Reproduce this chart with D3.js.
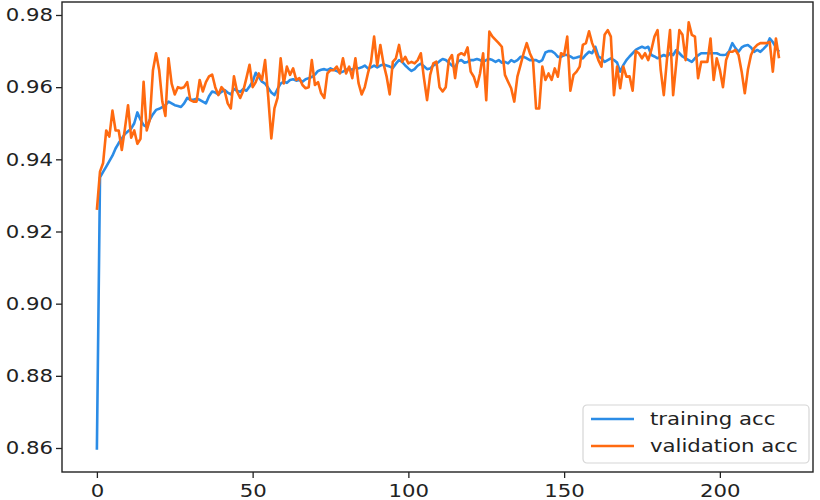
<!doctype html>
<html lang="en">
<head>
  <meta charset="utf-8">
  <title>Training vs validation accuracy</title>
  <script src="https://d3js.org/d3.v7.min.js"></script>
  <style>
    body { margin: 0; background: #fff; }
    svg text { font-family: "DejaVu Sans", sans-serif; fill: #222; }
  </style>
</head>
<body>
  <div id='my_chart'></div>
<script>
  const width = 820;
  const height = 500;
  const box = {left: 62, top: 2, right: 813, bottom: 472};
  const stretch = 1.18; // the picture's text is a bit wider than it is tall

  // data (one value per epoch)
  const training_acc = [
    0.8595, 0.935, 0.9365, 0.938, 0.9395, 0.941, 0.943, 0.9445, 0.9458, 0.947,
    0.9478, 0.9485, 0.950, 0.953, 0.951, 0.9495, 0.949, 0.951, 0.9525, 0.9537,
    0.954, 0.9545, 0.955, 0.956, 0.9555, 0.955, 0.9548, 0.9545, 0.9555, 0.957,
    0.9565, 0.9565, 0.9568, 0.9565, 0.956, 0.9555, 0.9575, 0.9588, 0.9585, 0.958,
    0.9587, 0.9592, 0.9585, 0.958, 0.9595, 0.959, 0.9587, 0.9595, 0.959, 0.9602,
    0.9615, 0.964, 0.9628, 0.9615, 0.961, 0.9598, 0.9585, 0.9578, 0.9595, 0.961,
    0.9615, 0.9612, 0.962, 0.9622, 0.9618, 0.962, 0.9615, 0.9622, 0.9625, 0.9628,
    0.9635, 0.9645, 0.9648, 0.965, 0.9647, 0.9652, 0.9648, 0.9645, 0.964, 0.9643,
    0.9648, 0.9652, 0.9648, 0.9655, 0.9652, 0.9655, 0.966, 0.9652, 0.9655, 0.966,
    0.9655, 0.966, 0.9663, 0.966, 0.9657, 0.9653, 0.9665, 0.9675, 0.967, 0.966,
    0.9652, 0.9645, 0.965, 0.966, 0.9665, 0.9658, 0.965, 0.9652, 0.966, 0.9665,
    0.9672, 0.9678, 0.9675, 0.9668, 0.966, 0.9655, 0.9672, 0.9675, 0.9668, 0.967,
    0.9675, 0.9675, 0.9678, 0.9675, 0.967, 0.9675, 0.9678, 0.9675, 0.967, 0.9675,
    0.9668, 0.967, 0.9666, 0.9675, 0.967, 0.9675, 0.9684, 0.9684, 0.968, 0.9675,
    0.9675, 0.9675, 0.967, 0.9675, 0.9696, 0.970, 0.970, 0.9694, 0.9684, 0.9684,
    0.9689, 0.9689, 0.9685, 0.968, 0.9682, 0.9685, 0.968, 0.969, 0.9698, 0.9694,
    0.9712, 0.9685, 0.968, 0.967, 0.9675, 0.968, 0.9675, 0.9668, 0.9643, 0.9661,
    0.9675, 0.9685, 0.9694, 0.9703, 0.9708, 0.9712, 0.9708, 0.9712, 0.9689, 0.9685,
    0.968, 0.9685, 0.9689, 0.9685, 0.9694, 0.9689, 0.9703, 0.9694, 0.9685, 0.968,
    0.9675, 0.967, 0.968, 0.9688, 0.9694, 0.9694, 0.9694, 0.9694, 0.9694, 0.9694,
    0.969, 0.9689, 0.969, 0.970, 0.9722, 0.9708, 0.9698, 0.971, 0.9715, 0.9717,
    0.971, 0.9698, 0.9703, 0.9698, 0.9706, 0.9715, 0.9735, 0.9725, 0.971, 0.9698
  ];
  const validation_acc = [
    0.926, 0.9366, 0.939, 0.948, 0.9463, 0.9535, 0.948, 0.948, 0.9426, 0.9485,
    0.955, 0.946, 0.948, 0.9443, 0.9457, 0.9615, 0.948, 0.951, 0.9647, 0.9694,
    0.9647, 0.956, 0.952, 0.968, 0.961, 0.958, 0.960, 0.9597, 0.960, 0.9614,
    0.9564, 0.956, 0.956, 0.962, 0.9588, 0.9614, 0.963, 0.9635, 0.960, 0.9578,
    0.960, 0.959, 0.9555, 0.9541, 0.963, 0.9588, 0.957, 0.959, 0.9625, 0.9662,
    0.960, 0.9614, 0.9638, 0.962, 0.9675, 0.9574, 0.9458, 0.9541, 0.957, 0.968,
    0.961, 0.9657, 0.9634, 0.9652, 0.962, 0.9625, 0.9606, 0.9597, 0.960, 0.9675,
    0.9606, 0.9614, 0.9583, 0.957, 0.9638, 0.9647, 0.9647, 0.9657, 0.9638, 0.968,
    0.9638, 0.9657, 0.9625, 0.968, 0.9611, 0.958, 0.960, 0.9638, 0.967, 0.974,
    0.966, 0.9717, 0.9666, 0.963, 0.958, 0.967, 0.968, 0.9717, 0.967, 0.9684,
    0.9666, 0.967, 0.9666, 0.9675, 0.9694, 0.9625, 0.9564, 0.9634, 0.9666, 0.9671,
    0.960, 0.9588, 0.960, 0.9675, 0.9689, 0.9625, 0.9689, 0.9694, 0.9689, 0.971,
    0.9643, 0.9629, 0.9601, 0.9638, 0.9694, 0.9564, 0.9754, 0.974, 0.9731, 0.9722,
    0.9712, 0.9634, 0.9615, 0.9597, 0.956, 0.9629, 0.9661, 0.9694, 0.9722, 0.9694,
    0.9675, 0.9541, 0.9541, 0.9657, 0.962, 0.9638, 0.962, 0.9652, 0.9629, 0.9694,
    0.9689, 0.974, 0.959, 0.9634, 0.9643, 0.9657, 0.9717, 0.9722, 0.9755, 0.9722,
    0.970, 0.9675, 0.9657, 0.9745, 0.9758, 0.974, 0.9578, 0.9657, 0.9597, 0.9657,
    0.9629, 0.963, 0.959, 0.970, 0.9694, 0.968, 0.9694, 0.9675, 0.9703, 0.974,
    0.9758, 0.9648, 0.9578, 0.9675, 0.9758, 0.9578, 0.9666, 0.9758, 0.9745, 0.9675,
    0.978, 0.9745, 0.974, 0.9625, 0.967, 0.967, 0.967, 0.9735, 0.962, 0.968,
    0.9648, 0.960, 0.9675, 0.9698, 0.9698, 0.9703, 0.9689, 0.9643, 0.9583, 0.9648,
    0.9689, 0.9708, 0.9717, 0.9722, 0.9722, 0.9722, 0.9725, 0.9643, 0.9735, 0.968
  ];
  const x_ticks = [0, 50, 100, 150, 200];
  const y_ticks = [0.86, 0.88, 0.90, 0.92, 0.94, 0.96, 0.98];
  const series = [
    {name: 'training acc', values: training_acc, color: '#2b8ce6'},
    {name: 'validation acc', values: validation_acc, color: '#ff6a10'}
  ];

  const x = d3.scaleLinear()
    .domain([-11.2, 229.9])
    .range([box.left, box.right]);
  const y = d3.scaleLinear()
    .domain([0.85335, 0.9836])
    .range([box.bottom, box.top]);

  const line = d3.line()
    .x((d, i) => x(i))
    .y((d) => y(d));

  let chart = d3.select('#my_chart').append('svg')
    .attr('width', width)
    .attr('height', height)
    .style('background', '#fff');

  // lines, clipped to the axes box
  chart.append('clipPath').attr('id', 'clip')
    .append('rect')
      .attr('x', box.left).attr('y', box.top)
      .attr('width', box.right - box.left).attr('height', box.bottom - box.top);

  chart.append('g')
    .attr('clip-path', 'url(#clip)')
    .selectAll('path')
    .data(series)
    .enter()
      .append('path')
        .attr('d', (d) => line(d.values))
        .attr('fill', 'none')
        .attr('stroke', (d) => d.color)
        .attr('stroke-width', 2.6)
        .attr('stroke-linejoin', 'round');

  // axes
  const x_axis = chart.append('g')
    .attr('transform', 'translate(0,' + box.bottom + ')')
    .call(d3.axisBottom(x).tickValues(x_ticks).tickFormat(d3.format('d'))
      .tickSize(6).tickSizeOuter(0).tickPadding(6));
  const y_axis = chart.append('g')
    .attr('transform', 'translate(' + box.left + ',0)')
    .call(d3.axisLeft(y).tickValues(y_ticks).tickFormat(d3.format('.2f'))
      .tickSize(6).tickSizeOuter(0).tickPadding(6));
  [x_axis, y_axis].forEach((g) => {
    g.select('.domain').remove();
    g.selectAll('line').attr('stroke', '#222').attr('stroke-width', 1.3);
    g.selectAll('text').style('font-size', '18px').style('fill', '#222')
      .attr('font-family', null)
      .attr('transform', 'scale(' + stretch + ',1)');
  });
  // keep the y labels' right edge next to the ticks after stretching
  y_axis.selectAll('text').attr('x', -9 / stretch);

  // frame
  chart.append('rect')
    .attr('x', box.left).attr('y', box.top)
    .attr('width', box.right - box.left).attr('height', box.bottom - box.top)
    .attr('fill', 'none')
    .attr('stroke', '#222')
    .attr('stroke-width', 1.4);

  // legend
  const legend = chart.append('g').attr('transform', 'translate(583,405)');
  legend.append('rect')
    .attr('width', 226).attr('height', 58)
    .attr('rx', 4)
    .attr('fill', '#fff')
    .attr('fill-opacity', 0.8)
    .attr('stroke', '#d6d6d6')
    .attr('stroke-width', 1.2);
  const items = legend.selectAll('g.item')
    .data(series)
    .enter()
      .append('g')
        .attr('class', 'item')
        .attr('transform', (d, i) => 'translate(0,' + (14 + i * 27) + ')');
  items.append('line')
    .attr('x1', 8).attr('x2', 51)
    .attr('stroke', (d) => d.color)
    .attr('stroke-width', 2.6);
  items.append('text')
    .attr('transform', 'translate(67,0) scale(' + stretch + ',1)')
    .attr('dy', '0.35em')
    .style('font-size', '18px')
    .text((d) => d.name);
</script>
</body>
</html>
